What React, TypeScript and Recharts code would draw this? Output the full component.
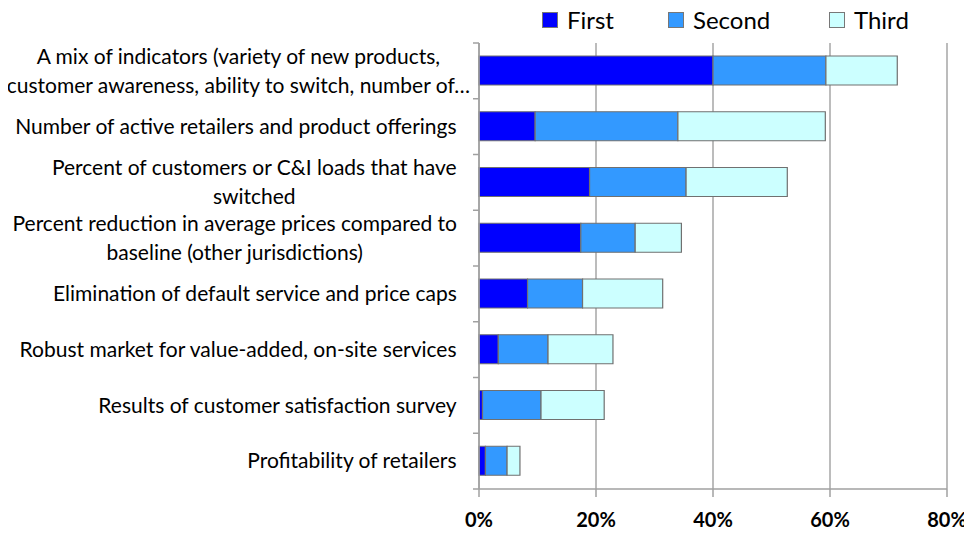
import { Bar, BarChart, CartesianGrid, XAxis, YAxis } from "recharts";

const categories: string[][] = [
  ["A mix of indicators (variety of new products,", "customer awareness, ability to switch, number of…"],
  ["Number of active retailers and product offerings"],
  ["Percent of customers or C&I loads that have", "switched"],
  ["Percent reduction in average prices compared to", "baseline (other jurisdictions)"],
  ["Elimination of default service and price caps"],
  ["Robust market for value-added, on-site services"],
  ["Results of customer satisfaction survey"],
  ["Profitability of retailers"]
];
const first = [40, 9.6, 18.9, 17.4, 8.3, 3.3, 0.6, 1.1];
const second = [19.3, 24.4, 16.5, 9.3, 9.4, 8.5, 10.0, 3.7];
const third = [12.2, 25.2, 17.3, 7.9, 13.7, 11.1, 10.8, 2.2];
const xTicks = [0, 20, 40, 60, 80];

const series = [
  { key: "first", name: "First", color: "#0000ff" },
  { key: "second", name: "Second", color: "#3399ff" },
  { key: "third", name: "Third", color: "#ccffff" }
];

const data = categories.map((lines, i) => ({
  name: lines.join(" "),
  first: first[i],
  second: second[i],
  third: third[i]
}));

const FONT = "Lato, 'Noto Sans', sans-serif";
const LABEL_SIZE = 21;
const TOP = 43;
const BOTTOM = 489;
const BAND = (BOTTOM - TOP) / categories.length;

let ctx: CanvasRenderingContext2D | null = null;
function measure(text: string) {
  if (!ctx) ctx = document.createElement("canvas").getContext("2d");
  if (!ctx) return text.length * 9;
  ctx.font = `${LABEL_SIZE}px ${FONT}`;
  return ctx.measureText(text).width;
}

function CategoryTick(props: any) {
  const { y, index } = props;
  const lines = categories[index] ?? [];
  const right = 457;
  const w = Math.max(...lines.map(measure));
  // right-aligned block, but long labels are pushed right so they stay on the page
  const cx = Math.max(right - w / 2, w / 2 + 6);
  const lh = 29;
  const y0 = y - ((lines.length - 1) * lh) / 2;
  return (
    <g>
      <line x1={473} x2={479} y1={y - BAND / 2} y2={y - BAND / 2} stroke="#a0a0a0" strokeWidth={1.5} />
      {index === categories.length - 1 && (
        <line x1={473} x2={479} y1={y + BAND / 2} y2={y + BAND / 2} stroke="#a0a0a0" strokeWidth={1.5} />
      )}
      {lines.map((t, i) => (
        <text
          key={i}
          x={cx}
          y={y0 + i * lh}
          dy="0.35em"
          textAnchor="middle"
          fontFamily={FONT}
          fontSize={LABEL_SIZE}
          fill="#000"
        >
          {t}
        </text>
      ))}
    </g>
  );
}

function ChartLegend() {
  const lefts = [542, 668, 829];
  return (
    <div style={{ position: "absolute", top: 0, left: 0, height: 40, width: 972 }}>
      {series.map((s, i) => (
        <div
          key={s.key}
          style={{
            position: "absolute",
            left: lefts[i],
            top: 5,
            display: "flex",
            alignItems: "center",
            fontFamily: FONT,
            fontSize: 24,
            color: "#000"
          }}
        >
          <span
            style={{
              width: 14,
              height: 14,
              background: s.color,
              border: "1px solid #777",
              marginRight: 9,
              display: "inline-block"
            }}
          />
          <span>{s.name}</span>
        </div>
      ))}
    </div>
  );
}

export default function App() {
  return (
    <div style={{ margin: -8, width: 972, height: 535, background: "#fff", position: "relative" }}>
      <BarChart
        width={972}
        height={535}
        data={data}
        layout="vertical"
        margin={{ top: TOP, right: 25, bottom: 0, left: 0 }}
      >
        <CartesianGrid horizontal={false} stroke="#a6a6a6" strokeWidth={1.5} />
        <XAxis
          type="number"
          domain={[0, 80]}
          ticks={xTicks}
          tickFormatter={(v) => `${v}%`}
          stroke="#a0a0a0"
          strokeWidth={1.5}
          tickSize={8}
          tickMargin={16}
          tick={{ fill: "#000", fontFamily: FONT, fontSize: 20, fontWeight: 700 }}
          height={535 - BOTTOM}
        />
        <YAxis
          type="category"
          dataKey="name"
          width={479}
          tickLine={false}
          stroke="#a0a0a0"
          strokeWidth={1.5}
          tick={<CategoryTick />}
          interval={0}
        />
        {series.map((s) => (
          <Bar
            key={s.key}
            dataKey={s.key}
            name={s.name}
            stackId="a"
            fill={s.color}
            stroke="#707070"
            strokeWidth={1.2}
            barSize={29}
            isAnimationActive={false}
          />
        ))}
      </BarChart>
      <ChartLegend />
    </div>
  );
}
